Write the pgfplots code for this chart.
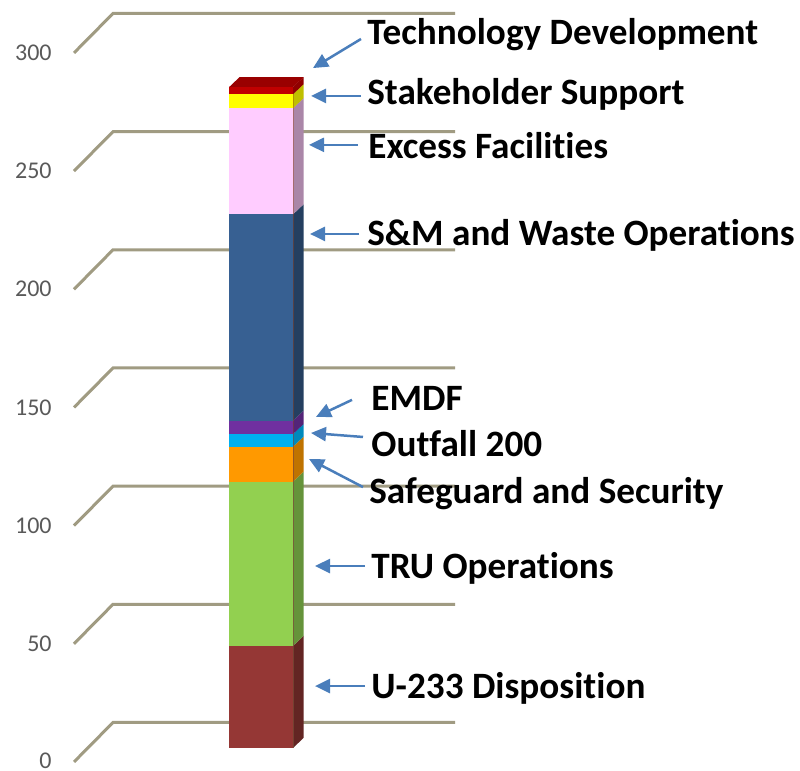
\documentclass[border=0pt]{standalone}
\usepackage{fontspec}
\setmainfont{Carlito}[Ligatures=NoCommon]
\usepackage{pgfplots}
\usepackage{pgfplotstable}
\pgfplotsset{compat=1.18}
\usetikzlibrary{arrows.meta}

\definecolor{gridc}{RGB}{160,155,130}
\definecolor{tickc}{HTML}{595959}
\definecolor{arr}{HTML}{4A7EBB}
\definecolor{cU}{HTML}{953735}\definecolor{sU}{HTML}{632523}
\definecolor{cT}{HTML}{92D050}\definecolor{sT}{HTML}{65933A}
\definecolor{cS}{HTML}{FF9900}\definecolor{sS}{HTML}{BF7300}
\definecolor{cO}{HTML}{00B0F0}\definecolor{sO}{HTML}{0089BB}
\definecolor{cE}{HTML}{7030A0}\definecolor{sE}{HTML}{532478}
\definecolor{cM}{HTML}{376092}\definecolor{sM}{HTML}{243F60}
\definecolor{cX}{HTML}{FFCCFF}\definecolor{sX}{HTML}{AA86A8}
\definecolor{cK}{HTML}{FFFF00}\definecolor{sK}{HTML}{BFBF00}
\definecolor{cD}{HTML}{C00000}\definecolor{sD}{HTML}{900000}
\definecolor{tD}{HTML}{990000}

% front-face values of the stacked bar
\pgfplotstableread{
x   u233 tru  sas  outf emdf sm   excess stake tech
261 43.2 69.5 14.8 5.3  5.7  87.3 44.9   5.9   3.0
}\bardata

\pgfplotsset{base/.style={scale only axis, width=400pt, height=385.5pt,
  xmin=0, xmax=800, ymin=-9.73, ymax=316.5, clip=false}}

\begin{document}
\begin{tikzpicture}
% ---- axis 1: floor/wall gridlines, tick labels, side faces, annotations
\begin{axis}[base,
  axis line style={draw=none}, major tick length=0pt,
  xtick=\empty,
  ytick={-5.6,44.1,94.1,144.1,194.1,244.1,294.1},
  yticklabels={0,50,100,150,200,250,300},
  yticklabel style={inner sep=0pt, anchor=east, xshift=26pt, text=tickc, font=\fontsize{12}{14}\selectfont},
  /pgf/number format/assume math mode=true]
\addplot[gridc, line width=1.5pt] coordinates {(74,-5.9) (113,10.8) (455,10.8)};
\addplot[gridc, line width=1.5pt] coordinates {(74,44.1) (113,60.8) (455,60.8)};
\addplot[gridc, line width=1.5pt] coordinates {(74,94.1) (113,110.8) (455,110.8)};
\addplot[gridc, line width=1.5pt] coordinates {(74,144.1) (113,160.8) (455,160.8)};
\addplot[gridc, line width=1.5pt] coordinates {(74,194.1) (113,210.8) (455,210.8)};
\addplot[gridc, line width=1.5pt] coordinates {(74,244.1) (113,260.8) (455,260.8)};
\addplot[gridc, line width=1.5pt] coordinates {(74,294.1) (113,310.8) (455,310.8)};
% side faces (cumulative heights)
\addplot[fill=sU, draw=none] coordinates {(293,0) (303.5,4.23) (303.5,47.43) (293,43.2)} \closedcycle;
\addplot[fill=sT, draw=none] coordinates {(293,43.2) (303.5,47.43) (303.5,116.93) (293,112.7)} \closedcycle;
\addplot[fill=sS, draw=none] coordinates {(293,112.7) (303.5,116.93) (303.5,131.73) (293,127.5)} \closedcycle;
\addplot[fill=sO, draw=none] coordinates {(293,127.5) (303.5,131.73) (303.5,137.03) (293,132.8)} \closedcycle;
\addplot[fill=sE, draw=none] coordinates {(293,132.8) (303.5,137.03) (303.5,142.73) (293,138.5)} \closedcycle;
\addplot[fill=sM, draw=none] coordinates {(293,138.5) (303.5,142.73) (303.5,230.03) (293,225.8)} \closedcycle;
\addplot[fill=sX, draw=none] coordinates {(293,225.8) (303.5,230.03) (303.5,274.93) (293,270.7)} \closedcycle;
\addplot[fill=sK, draw=none] coordinates {(293,270.7) (303.5,274.93) (303.5,280.83) (293,276.6)} \closedcycle;
\addplot[fill=sD, draw=none] coordinates {(293,276.6) (303.5,280.83) (303.5,283.83) (293,279.6)} \closedcycle;
\addplot[fill=tD, draw=none] coordinates {(229,279.6) (239.5,283.83) (303.5,283.83) (293,279.6)} \closedcycle;
% arrows
\begin{scope}[arr, line width=1.25pt, -{Triangle[length=7.5pt,width=7pt]}]
\draw (axis cs:361,300.0) -- (axis cs:313,287.7);
\draw (axis cs:361,275.9) -- (axis cs:311,275.9);
\draw (axis cs:358,255.2) -- (axis cs:309,255.2);
\draw (axis cs:359,217.5) -- (axis cs:310,217.5);
\draw (axis cs:352,147.3) -- (axis cs:316,140.1);
\draw (axis cs:363,131.6) -- (axis cs:311,133.3);
\draw (axis cs:363,110.4) -- (axis cs:309,122.3);
\draw (axis cs:365,77.0) -- (axis cs:315,77.0);
\draw (axis cs:365,26.2) -- (axis cs:315,26.2);
\end{scope}
\begin{scope}[every node/.style={anchor=base west, inner sep=0pt, font=\fontsize{18.6}{21}\selectfont\bfseries}]
\node at (axis cs:367,297.8) {Technology Development};
\node at (axis cs:367,272.3) {Stakeholder Support};
\node at (axis cs:368,249.3) {Excess Facilities};
\node at (axis cs:367,212.6) {S\&M and Waste Operations};
\node at (axis cs:371,142.9) {EMDF};
\node at (axis cs:371,123.4) {Outfall 200};
\node at (axis cs:369,103.5) {Safeguard and Security};
\node at (axis cs:371,71.6) {TRU Operations};
\node at (axis cs:371,21.0) {U-233 Disposition};
\end{scope}
\end{axis}
% ---- axis 2: front faces of the stacked bar
\begin{axis}[base, hide axis, ybar stacked, bar width=64]
\addplot[fill=cU, draw=none] table[x=x, y=u233] {\bardata};
\addplot[fill=cT, draw=none] table[x=x, y=tru] {\bardata};
\addplot[fill=cS, draw=none] table[x=x, y=sas] {\bardata};
\addplot[fill=cO, draw=none] table[x=x, y=outf] {\bardata};
\addplot[fill=cE, draw=none] table[x=x, y=emdf] {\bardata};
\addplot[fill=cM, draw=none] table[x=x, y=sm] {\bardata};
\addplot[fill=cX, draw=none] table[x=x, y=excess] {\bardata};
\addplot[fill=cK, draw=none] table[x=x, y=stake] {\bardata};
\addplot[fill=cD, draw=none] table[x=x, y=tech] {\bardata};
\end{axis}
\pgfresetboundingbox
\path[use as bounding box] (0,0) rectangle (400pt,385.5pt);
\end{tikzpicture}
\end{document}
